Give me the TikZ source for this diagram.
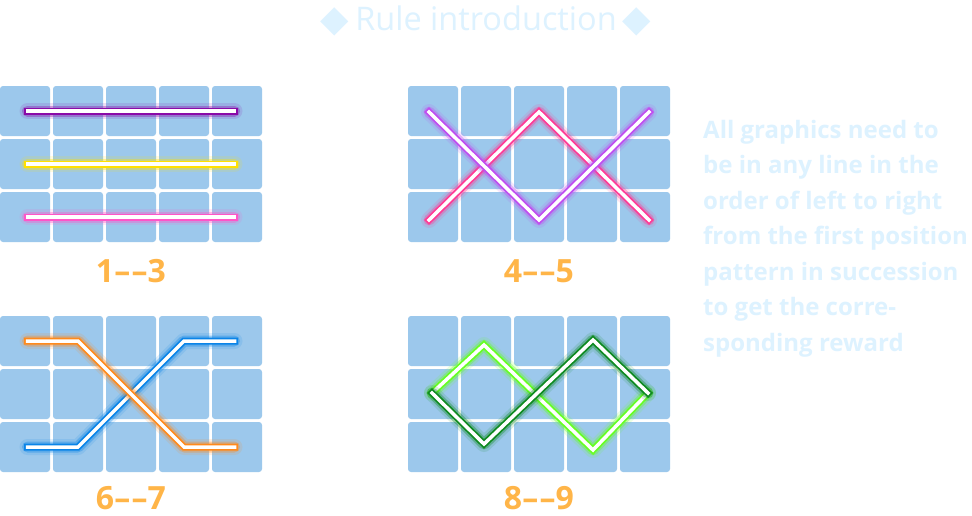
\documentclass[tikz,border=0pt]{standalone}
\usepackage{fontspec}
\setmainfont{Open Sans}
\newfontfamily\symfont{DejaVu Sans}
\definecolor{cellc}{HTML}{9CC8EC}
\definecolor{paletxt}{HTML}{DDF2FF}
\definecolor{lblc}{HTML}{FFB548}
\definecolor{cpurple}{HTML}{8A0AA8}
\definecolor{cyellow}{HTML}{FFE000}
\definecolor{cpink}{HTML}{FF55C8}
\definecolor{cviolet}{HTML}{C04CF0}
\definecolor{cmagenta}{HTML}{FF3A96}
\definecolor{corange}{HTML}{FF8A1C}
\definecolor{cblue}{HTML}{0A84E8}
\definecolor{clime}{HTML}{66FF22}
\definecolor{cdkgreen}{HTML}{0E8A20}
\tikzset{
  glowa/.style={draw=#1, line width=16, opacity=0.13, line cap=round, line join=round},
  glowb/.style={draw=#1, line width=11, opacity=0.35, line cap=round, line join=round},
  rim/.style={draw=#1, line width=7, line cap=rect, line join=miter},
  core/.style={draw=white, line width=3.5, line cap=rect, line join=miter},
  lbl/.style={text=lblc, font=\fontsize{32}{32}\bfseries\selectfont, anchor=base, inner sep=0},
  info/.style={text=paletxt, font=\fontsize{24}{24}\bfseries\selectfont, anchor=base west, inner sep=0},
}
\newcommand\neon[2]{%
  \draw[glowa=#1] #2;
  \draw[glowb=#1] #2;
  \draw[rim=#1] #2;
  \draw[core] #2;}
\newcommand\cellgrid{%
  \foreach \i in {0,...,4}{\foreach \j in {0,1,2}{%
    \fill[cellc, rounded corners=3pt] (\i*53,\j*53) rectangle ++(50,50);}}}
\newcommand\dia{{\symfont\fontsize{37}{37}\selectfont\raisebox{-1.5pt}{◆}}}
\begin{document}
\begin{tikzpicture}[x=1pt,y=-1pt]
\useasboundingbox[fill=white] (0,0) rectangle (972,515);

% title
\node[text=paletxt, font=\fontsize{32.5}{32.5}\selectfont, anchor=base, inner sep=0] (title) at (486,30)
  {\dia\kern6pt Rule introduction\kern6pt\dia};

% grid 1
\begin{scope}[shift={(0,86)}]
  \cellgrid
  \neon{cpurple}{(27.5,25) -- (234.5,25)}
  \neon{cyellow}{(27.5,78) -- (234.5,78)}
  \neon{cpink}{(27.5,131) -- (234.5,131)}
\end{scope}
% grid 2
\begin{scope}[shift={(408,86)}]
  \cellgrid
  \neon{cmagenta}{(21,134) -- (131,26) -- (241,134)}
  \neon{cviolet}{(21,26) -- (131,134) -- (241,26)}
\end{scope}
% grid 3
\begin{scope}[shift={(0,316)}]
  \cellgrid
  \neon{cblue}{(27.5,131) -- (78,131) -- (184,25) -- (234.5,25)}
  \neon{corange}{(27.5,25) -- (78,25) -- (184,131) -- (234.5,131)}
\end{scope}
% grid 4
\begin{scope}[shift={(408,316)}]
  \cellgrid
  \neon{clime}{(24,77) -- (76,29) -- (185,134) -- (240,77)}
  \neon{cdkgreen}{(24,77) -- (76,128) -- (185,24) -- (240,77)}
\end{scope}

% labels
\node[lbl] (l1) at (131,282) {1–\kern1.5pt–3};
\node[lbl] (l2) at (539,282) {4–\kern1.5pt–5};
\node[lbl] (l3) at (131,509.5) {6–\kern1.5pt–7};
\node[lbl] (l4) at (539,509.5) {8–\kern1.5pt–9};

% description
\node[info] (t1) at (703,138.0) {All graphics need to};
\node[info] (t2) at (703,173.5) {be in any line in the};
\node[info] (t3) at (703,209.0) {order of left to right};
\node[info] (t4) at (703,244.5) {from the first position};
\node[info] (t5) at (703,280.0) {pattern in succession};
\node[info] (t6) at (703,315.5) {to get the corre-};
\node[info] (t7) at (703,351.0) {sponding reward};
\end{tikzpicture}
\end{document}
